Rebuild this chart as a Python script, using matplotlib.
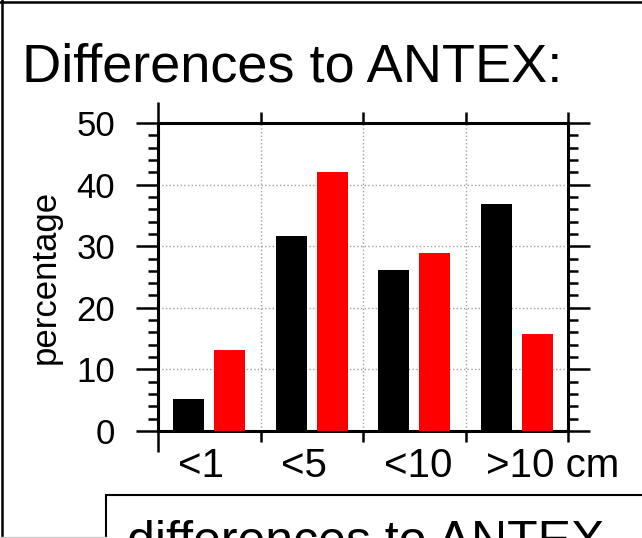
import numpy as np
import matplotlib
matplotlib.use('Agg')
import matplotlib.pyplot as plt
import matplotlib.transforms as mtransforms
from matplotlib.lines import Line2D
from matplotlib.patches import Rectangle
from matplotlib.ticker import MultipleLocator

plt.rcParams['font.family'] = ['Liberation Sans', 'DejaVu Sans']

# share of stations per difference class (percent)
classes = ['<1', '<5', '<10', '>10 cm']
black_pct = [5.2, 31.6, 26.2, 36.8]
red_pct = [13.2, 42.1, 28.9, 15.8]

W, H = 642, 538
fig = plt.figure(figsize=(W / 100, H / 100), dpi=100)
ax = fig.add_axes([158 / W, 1 - 431 / H, 410 / W, 308 / H])

x = np.arange(len(classes))
ax.bar(x + 0.3, black_pct, width=0.3, color='black', zorder=3)
ax.bar(x + 0.7, red_pct, width=0.3, color='red', zorder=3)

ax.set_xlim(0, len(classes))
ax.set_ylim(0, 50)
ax.set_xticks(np.arange(len(classes) + 1))
ax.set_xticklabels([])
ax.yaxis.set_major_locator(MultipleLocator(10))
ax.yaxis.set_minor_locator(MultipleLocator(2))

ax.tick_params(axis='y', which='major', direction='out', length=15.8, width=1.8,
               left=True, right=True, labelsize=25, pad=15)
ax.tick_params(axis='y', which='minor', direction='out', length=7.2, width=1.8,
               left=True, right=True)
ax.tick_params(axis='x', which='major', direction='out', length=8, width=1.8,
               top=True, bottom=True)
# the first x tick runs out further than the rest
t0 = ax.xaxis.get_major_ticks()[0]
t0.tick1line.set_markersize(15)
t0.tick2line.set_markersize(15)

for sp in ax.spines.values():
    sp.set_linewidth(2.2)

ax.grid(True, linestyle=':', color='#a0a0a0', linewidth=1)

# class labels sit between the ticks
trans = mtransforms.blended_transform_factory(ax.transData, ax.transAxes)
for i, c in enumerate(classes):
    ax.text(i + 0.2, -0.149, c, transform=trans, ha='left', va='baseline', fontsize=29)

ax.set_ylabel('percentage', fontsize=25)
ax.yaxis.set_label_coords(-0.235, 0.5)

fig.text(22 / W, 1 - 82 / H, 'Differences to ANTEX:', fontsize=39, ha='left', va='baseline')

# slide frame
fig.add_artist(Line2D([2 / W, 2 / W], [0, 1], transform=fig.transFigure, color='black', lw=1.8))
fig.add_artist(Line2D([0, 1], [1 - 1.5 / H, 1 - 1.5 / H], transform=fig.transFigure, color='black', lw=1.8))
fig.add_artist(Line2D([0, 106 / W], [1 - 537 / H, 1 - 537 / H], transform=fig.transFigure, color='#cccccc', lw=1))

# caption box below the chart
fig.add_artist(Rectangle((106 / W, -0.2), 1, 0.2 + (1 - 495 / H), transform=fig.transFigure,
                         fill=False, edgecolor='black', lw=1.5))
fig.text(127 / W, 1 - 556 / H, 'differences to ANTEX', fontsize=36, ha='left', va='baseline')

fig.savefig('out.png', dpi=100)
